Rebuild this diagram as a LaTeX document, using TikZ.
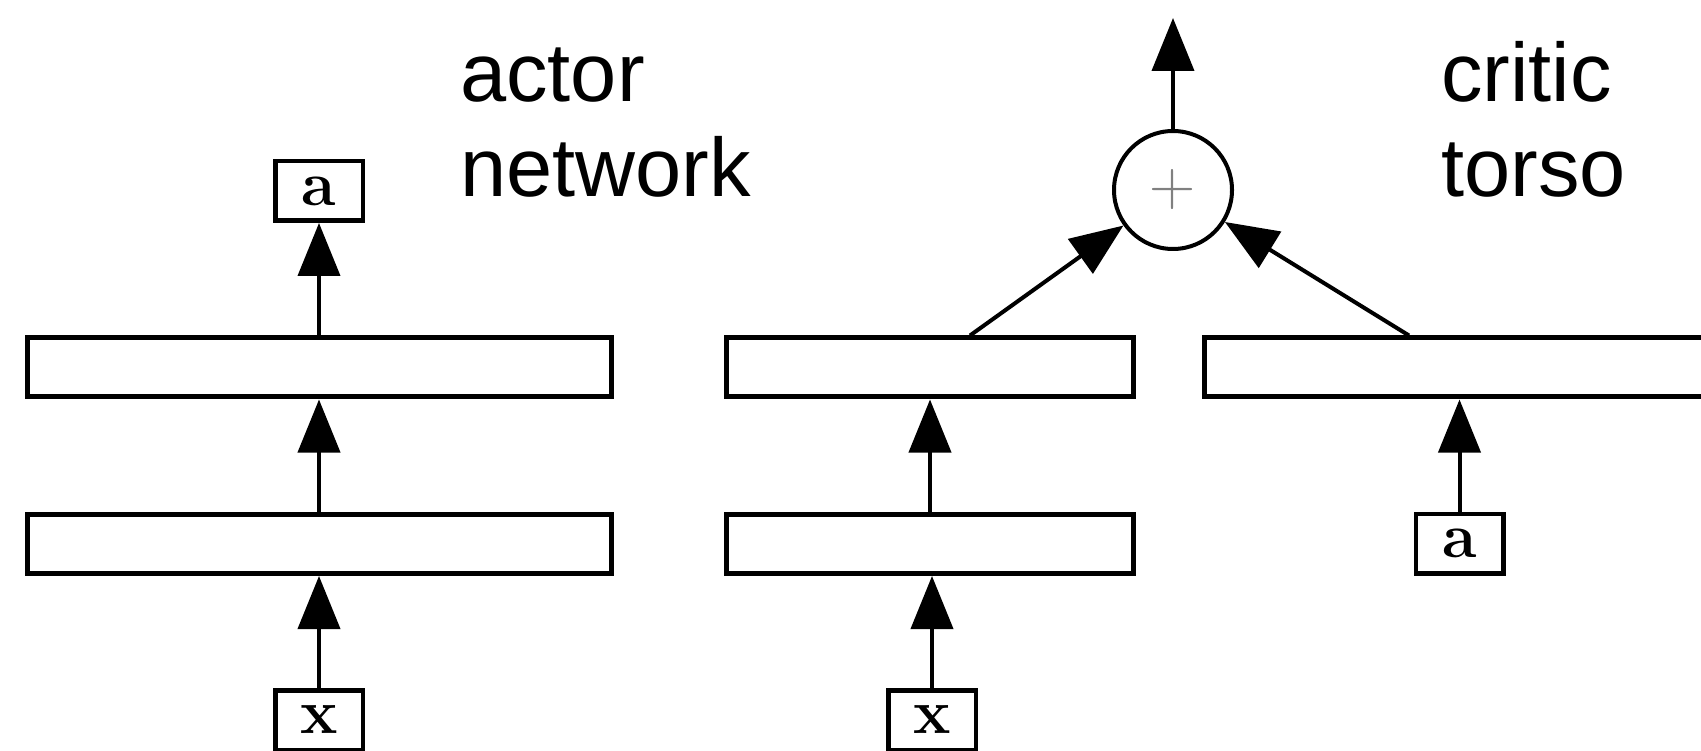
\documentclass[tikz,border=0pt]{standalone}
\usepackage{fontspec}
\newfontfamily\labelfont{Liberation Sans}
\usetikzlibrary{arrows.meta}
\begin{document}
\begin{tikzpicture}[x=1pt,y=-1pt,
  layer/.style={draw, line width=5pt, minimum width=584pt, minimum height=59pt, inner sep=0pt},
  clayer/.style={layer, minimum width=407pt},
  io/.style={draw, line width=4.5pt, minimum width=87.5pt, minimum height=59.5pt, inner sep=0pt,
    font=\fontsize{63}{63}\selectfont\bfseries},
  sumnode/.style={circle, draw, line width=4pt, minimum size=118pt, inner sep=0pt,
    text=black!50, font=\fontsize{64}{64}\selectfont},
  lbl/.style={anchor=base west, inner sep=0pt, font=\fontsize{83}{95}\selectfont\labelfont},
  arr/.style={line width=4pt, -{Triangle[length=53pt,width=42pt]}}]
\useasboundingbox (0,0) rectangle (1701,751);
\clip (0,0) rectangle (1701,751);

% actor network
\node[layer] (a2) at (319,367.5) {};
\node[layer] (a1) at (319,544) {};
\node[io] (ax) at (319,720) {x};
\node[io] (aa) at (319,191) {a};

% critic torso
\node[clayer] (c2) at (930,367.5) {};
\node[clayer] (c1) at (930,544) {};
\node[io] (cx) at (932,720) {x};
\node[layer] (r2) at (1496,367.5) {};
\node[io] (ra) at (1459.5,543.5) {a};
\node[sumnode] (sum) at (1173,190) {\raisebox{0.08em}{+}};
\coordinate (out) at (1173,18);

% connections
\draw[arr] (ax.north) -- (ax.north |- a1.south);
\draw[arr] (a1.north) -- (a2.south);
\draw[arr] (a2.north) -- (aa.south);
\draw[arr] (cx.north) -- (cx.north |- c1.south);
\draw[arr] (c1.north) -- (c2.south);
\draw[arr] ([xshift=40pt]c2.north) -- (sum);
\draw[arr] ([xshift=-87pt]r2.north) -- (sum);
\draw[arr] (ra.north) -- (ra.north |- r2.south);
\draw[arr] (sum) -- (out);

% labels
\node[lbl] (t1) at (460,102) {actor};
\node[lbl] (t2) at (460,197) {network};
\node[lbl] (t3) at (1441,102) {critic};
\node[lbl] (t4) at (1441,197) {torso};
\end{tikzpicture}
\end{document}
